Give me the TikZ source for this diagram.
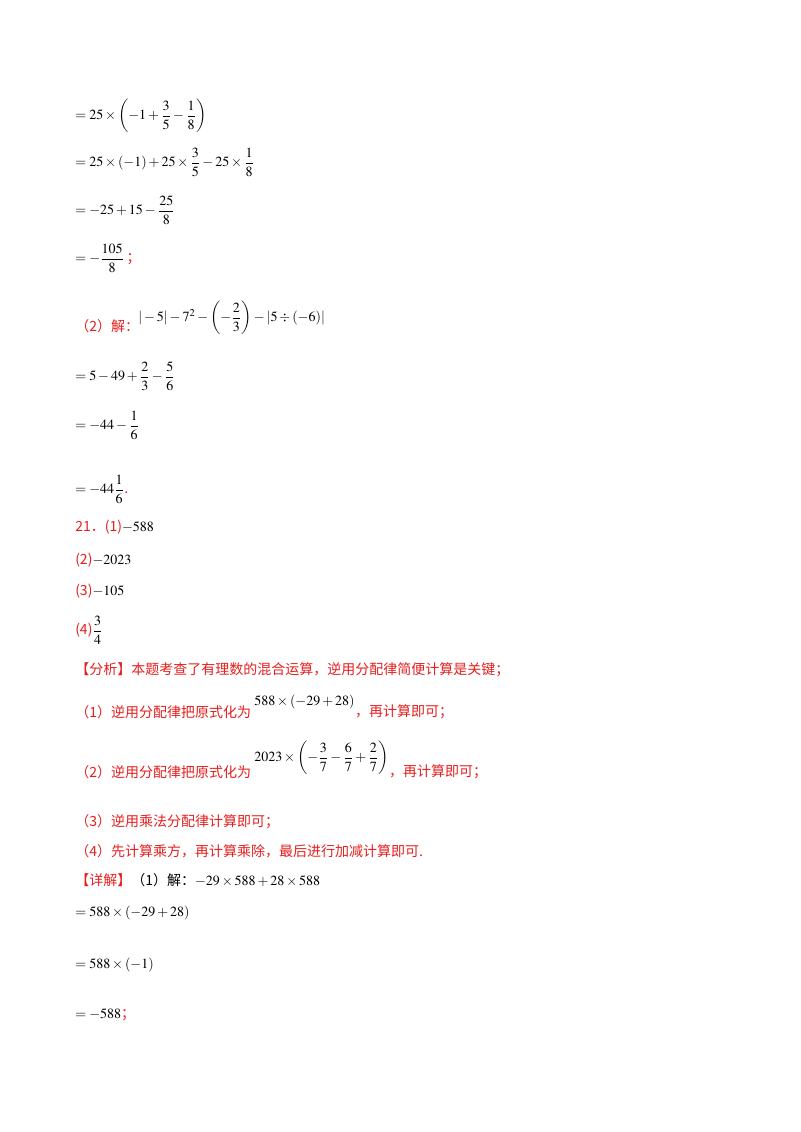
\documentclass[tikz,border=0pt]{standalone}
\usepackage{amsmath}
\usepackage{mathptmx}
\usepackage{fontspec}
\setmainfont{Liberation Serif}
\newfontfamily\cjk{Noto Sans CJK SC}
\definecolor{hred}{RGB}{230,30,30}
\begin{document}
\begin{tikzpicture}[x=0.75pt,y=-0.75pt,
  ln/.style={anchor=west,inner sep=0pt,font=\fontsize{10.5}{12}\selectfont},
  rd/.style={ln,text=hred,font=\fontsize{10.5}{12}\selectfont\cjk}]
\useasboundingbox (0,0) rectangle (800,1132);
\node[ln] (l1) at (75,116) {$=25\times\left(-1+\dfrac{3}{5}-\dfrac{1}{8}\right)$};
\node[ln] (l2) at (75,162) {$=25\times(-1)+25\times\dfrac{3}{5}-25\times\dfrac{1}{8}$};
\node[ln] (l3) at (75,210) {$=-25+15-\dfrac{25}{8}$};
\node[ln] (l4) at (75,258) {$=-\dfrac{105}{8}$\,{\color{hred}\cjk ；}};
\node[rd] (l5) at (75,326) {（2）解：};
\node[ln] (l5m) at (138,318) {$|-5|-7^2-\left(-\dfrac{2}{3}\right)-\left|5\div(-6)\right|$};
\node[ln] (l6) at (75,376) {$=5-49+\dfrac{2}{3}-\dfrac{5}{6}$};
\node[ln] (l7) at (75,425) {$=-44-\dfrac{1}{6}$};
\node[ln] (l8) at (75,489) {$=-44\dfrac{1}{6}${\color{hred}\cjk .}};
\node[ln] (a1) at (75,527) {{\cjk\color{hred}21．(1)}$-588$};
\node[ln] (a2) at (75,560) {{\cjk\color{hred}(2)}$-2023$};
\node[ln] (a3) at (75,591) {{\cjk\color{hred}(3)}$-105$};
\node[ln] (a4) at (75,630) {{\cjk\color{hred}(4)}$\dfrac{3}{4}$};
\node[rd] (f0) at (75,670) {【分析】本题考查了有理数的混合运算，逆用分配律简便计算是关键；};
\node[rd] (f1) at (75,712) {（1）逆用分配律把原式化为};
\node[ln] (f1m) at (254,702) {$588\times(-29+28)$};
\node[rd] (f1b) at (f1m.east |- f1) {，再计算即可；};
\node[rd] (f2) at (75,772) {（2）逆用分配律把原式化为};
\node[ln] (f2m) at (254,758) {$2023\times\left(-\dfrac{3}{7}-\dfrac{6}{7}+\dfrac{2}{7}\right)$};
\node[rd] (f2b) at (f2m.east |- f2) {，再计算即可；};
\node[rd] (f3) at (75,822) {（3）逆用乘法分配律计算即可；};
\node[rd] (f4) at (75,851) {（4）先计算乘方，再计算乘除，最后进行加减计算即可.};
\node[ln] (d0) at (75,880) {{\cjk\color{hred}【详解】}{\cjk （1）解：}$-29\times588+28\times588$};
\node[ln] (d1) at (75,913) {$=588\times(-29+28)$};
\node[ln] (d2) at (75,965) {$=588\times(-1)$};
\node[ln] (d3) at (75,1015) {$=-588${\color{hred}\cjk ；}};
\end{tikzpicture}
\end{document}
